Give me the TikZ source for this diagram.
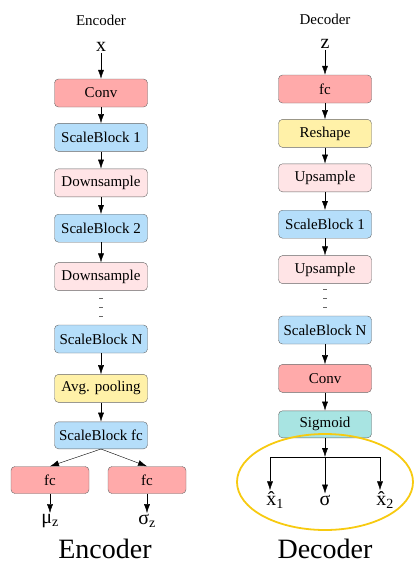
\documentclass[tikz,border=0pt]{standalone}
\usepackage{fontspec}
\setmainfont{Liberation Serif}
\usetikzlibrary{arrows.meta, positioning}

\definecolor{convred}{HTML}{FFAAAA}
\definecolor{blockblue}{HTML}{B5DEFA}
\definecolor{samplepink}{HTML}{FFE4E6}
\definecolor{poolyellow}{HTML}{FFF1A8}
\definecolor{sigteal}{HTML}{A8E4E2}
\definecolor{ringgold}{HTML}{F7CA10}

\begin{document}
\begin{tikzpicture}[x=1pt, y=-1pt,
      >={Latex[length=9pt,width=6pt]},
  box/.style = {draw=black!60, rounded corners=4pt, minimum width=93pt,
                minimum height=28pt, inner sep=2pt,
                font=\fontsize{15}{17}\selectfont},
  conv/.style = {box, fill=convred},
  block/.style = {box, fill=blockblue},
  resample/.style = {box, fill=samplepink},
  pool/.style = {box, fill=poolyellow},
  sig/.style = {box, fill=sigteal, minimum height=27pt},
  var/.style = {font=\fontsize{20}{22}\selectfont, inner sep=1pt},
  title/.style = {font=\fontsize{15}{16}\selectfont},
  caption/.style = {font=\fontsize{28}{30}\selectfont, inner sep=0pt}]
  \useasboundingbox (0,0) rectangle (414,565);

  % encoder
  \node[title] (enct) at (101,20) {Encoder};
  \node[var] (x) at (101,47) {x};
  \node[conv] (econv) at (101,93) {Conv};
  \node[block] (esb1) [below=16pt of econv] {ScaleBlock 1};
  \node[resample] (edown1) [below=17pt of esb1] {Downsample};
  \node[block] (esb2) [below=17pt of edown1] {ScaleBlock 2};
  \node[resample] (edown2) [below=20pt of esb2] {Downsample};
  \node[block] (esbn) [below=34pt of edown2] {ScaleBlock N};
  \node[pool] (epool) [below=21pt of esbn] {Avg. pooling};
  \node[block, minimum height=27pt] (esbfc) [below=19pt of epool] {ScaleBlock fc};
  \node[conv, minimum width=78pt, minimum height=27pt] (fcmu) at (50,480) {fc};
  \node[conv, minimum width=78pt, minimum height=27pt] (fcsig) at (147,480) {fc};
  \node[var] (mu) at (50,521) {μ\textsubscript{z}};
  \node[var] (sigma) at (147,521) {σ\textsubscript{z}};
  \node[caption] (encc) at (105,549) {Encoder};

  \draw[->] (x) -- (econv);
  \draw[->] (econv) -- (esb1);
  \draw[->] (esb1) -- (edown1);
  \draw[->] (edown1) -- (esb2);
  \draw[->] (esb2) -- (edown2);
  \draw[->] (esbn) -- (epool);
  \draw[->] (epool) -- (esbfc);
  \draw[->] (esbfc.south) -- (fcmu.north);
  \draw[->] (esbfc.south) -- (fcsig.north);
  \draw[->] (fcmu) -- (mu);
  \draw[->] (fcsig) -- (sigma);
  \foreach \d in {298,307,316}
    \draw[black!60] (99,\d) -- (103,\d);

  % decoder
  \node[title] (dect) at (325,19) {Decoder};
  \node[var] (z) at (325,44) {z};
  \node[conv] (dfc) at (325,89) {fc};
  \node[pool] (dreshape) [below=16pt of dfc] {Reshape};
  \node[resample] (dup1) [below=16pt of dreshape] {Upsample};
  \node[block] (dsb1) [below=18pt of dup1] {ScaleBlock 1};
  \node[resample] (dup2) [below=17pt of dsb1] {Upsample};
  \node[block] (dsbn) [below=32pt of dup2] {ScaleBlock N};
  \node[conv] (dconv) [below=20pt of dsbn] {Conv};
  \node[sig] (dsig) [below=18pt of dconv] {Sigmoid};
  \coordinate (split) at (325,457);
  \node[var] (xh1) at (275,500) {\^{x}\textsubscript{1}};
  \node[var] (sd) at (325,500) {σ};
  \node[var] (xh2) at (385,500) {\^{x}\textsubscript{2}};
  \node[caption] (decc) at (325,549) {Decoder};

  \draw[->] (z) -- (dfc);
  \draw[->] (dfc) -- (dreshape);
  \draw[->] (dreshape) -- (dup1);
  \draw[->] (dup1) -- (dsb1);
  \draw[->] (dsb1) -- (dup2);
  \draw[->] (dsbn) -- (dconv);
  \draw[->] (dconv) -- (dsig);
  \draw[->] (dsig) -- (split);
  \draw (270,457) coordinate (sl) -- (380,457) coordinate (sr);
  \draw[->] (split) -- (sd);
  \draw[->] (sl) -- (sl |- xh1.north);
  \draw[->] (sr) -- (sr |- xh2.north);
  \foreach \d in {289,298,307}
    \draw[black!60] (323,\d) -- (327,\d);

  \draw[ringgold, line width=1.8pt] (325,482) ellipse (88pt and 48pt);
\end{tikzpicture}
\end{document}
